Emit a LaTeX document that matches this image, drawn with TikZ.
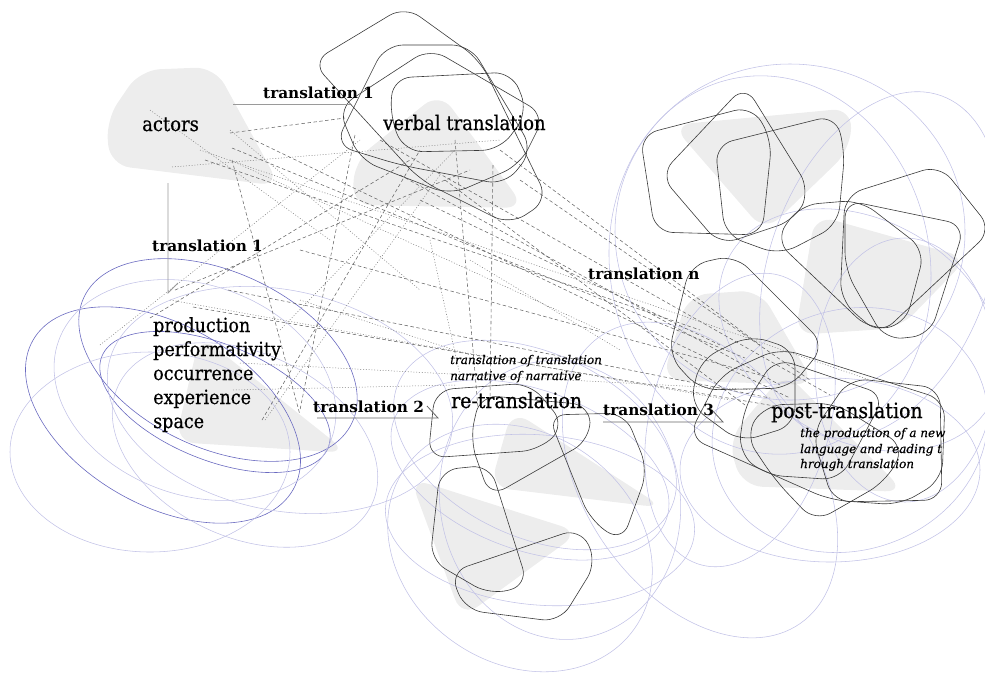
\documentclass[tikz,border=0pt]{standalone}
\usepackage{fontspec}
\setmainfont{DejaVu Serif}
\newfontfamily\narrowserif{DejaVu Serif}[FakeStretch=0.9, FakeBold=0.6]
\newfontfamily\itserif{DejaVu Serif}[FakeBold=0.4]
\definecolor{loopc}{HTML}{3A3A3A}
\definecolor{bluedk}{HTML}{6A6AC0}
\definecolor{bluelt}{HTML}{C2C2E6}
\definecolor{dashc}{HTML}{666666}
\definecolor{connc}{HTML}{9A9A9A}
\tikzset{
 blobfill/.style={fill=black, fill opacity=0.07, draw=none, rounded corners=20pt},
 blk/.style={draw=loopc, line width=0.6pt, rounded corners=18pt},
 bdk/.style={draw=bluedk, line width=0.6pt},
 blt/.style={draw=bluelt, line width=0.55pt},
 dsh/.style={draw=dashc, line width=0.55pt, dash pattern=on 3.5pt off 2.5pt},
 dtt/.style={draw=dashc!85, line width=0.5pt, dash pattern=on 1pt off 1.8pt},
 connline/.style={draw=connc, line width=0.8pt},
 bigl/.style={font=\narrowserif\fontsize{20}{22}\selectfont, inner sep=0, anchor=base west},
 listl/.style={font=\narrowserif\fontsize{19.5}{22}\selectfont, inner sep=0, anchor=base west},
 retl/.style={font=\narrowserif\fontsize{21}{23}\selectfont, inner sep=0, anchor=base west},
 boldl/.style={font=\bfseries\fontsize{15.3}{17}\selectfont, inner sep=0, anchor=base west},
 itl/.style={font=\itserif\itshape\fontsize{12}{14}\selectfont, inner sep=0, anchor=base west},
}
\begin{document}
\begin{tikzpicture}[x=1pt,y=-1pt]
\useasboundingbox (0,0) rectangle (985,673);

% ---------- grey blobs ----------
\fill[blobfill] (247.5,126.5) -- (280,186) -- (110,165) -- (106,120) -- (140,70) -- (215,67) -- cycle;
\fill[blobfill] (482.5,150) -- (525,208) -- (352,205) -- (355,160) -- (440,92) -- cycle;
\fill[blobfill] (274,394) -- (348,453) -- (175,442) -- (200,335) -- cycle;
\fill[blobfill] (588,459) -- (664,508) -- (490,487) -- (512,410) -- cycle;
\fill[blobfill] (495,505) -- (580,532) -- (462,618) -- (410,478) -- cycle;
\fill[blobfill] (762,116.5) -- (852,108) -- (850,150) -- (765,232) -- (672,125) -- cycle;
\fill[blobfill] (891.5,236.5) -- (968,258) -- (900,328) -- (795,335) -- (815,215) -- cycle;
\fill[blobfill] (787.5,337.5) -- (815,385) -- (662,380) -- (688,295) -- (760,290) -- cycle;
\fill[blobfill] (845,432) -- (905,492) -- (742,486) -- (728,440) -- (785,372) -- cycle;

% ---------- blue loops, left ----------
\draw[bdk, rotate around={-25:(218,360)}] (218,360) ellipse [x radius=148, y radius=88];
\draw[bdk, rotate around={-30:(163,415)}] (163,415) ellipse [x radius=150, y radius=90];
\draw[bdk, rotate around={-22:(215,402)}] (215,402) ellipse [x radius=122, y radius=58];
\draw[blt] (150,452) ellipse [x radius=140, y radius=100];
\draw[blt, rotate around={-20:(195,390)}] (195,390) ellipse [x radius=145, y radius=105];
\draw[blt, rotate around={-25:(245,445)}] (245,445) ellipse [x radius=140, y radius=92];
\draw[blt, rotate around={-12:(280,400)}] (280,400) ellipse [x radius=175, y radius=110];

% ---------- blue loops, middle ----------
\draw[blt, rotate around={-20:(530,470)}] (530,470) ellipse [x radius=145, y radius=80];
\draw[blt, rotate around={-5:(540,520)}] (540,520) ellipse [x radius=155, y radius=85];
\draw[blt, rotate around={-35:(520,548)}] (520,548) ellipse [x radius=140, y radius=115];
\draw[blt, rotate around={-25:(535,445)}] (535,445) ellipse [x radius=150, y radius=92];
\draw[blt, rotate around={10:(560,500)}] (560,500) ellipse [x radius=120, y radius=140];

% ---------- blue loops, right ----------
\draw[blt] (790,232) ellipse [x radius=175, y radius=168];
\draw[blt, rotate around={10:(770,265)}] (770,265) ellipse [x radius=160, y radius=190];
\draw[blt, rotate around={-20:(880,265)}] (880,265) ellipse [x radius=110, y radius=180];
\draw[blt] (830,470) ellipse [x radius=150, y radius=92];
\draw[blt, rotate around={20:(850,430)}] (850,430) ellipse [x radius=140, y radius=120];
\draw[blt, rotate around={-15:(740,420)}] (740,420) ellipse [x radius=90, y radius=150];
\draw[blt] (905,370) ellipse [x radius=90, y radius=132];
\draw[blt, rotate around={35:(700,480)}] (700,480) ellipse [x radius=115, y radius=175];
\draw[blt, rotate around={-30:(860,330)}] (860,330) ellipse [x radius=150, y radius=110];

% ---------- dashed lines ----------
\foreach \a/\b in {
 {(230,133)}/{(345,118)}, {(232,148)}/{(745,358)}, {(250,138)}/{(790,398)},
 {(205,160)}/{(700,330)}, {(228,290)}/{(770,398)}, {(193,307)}/{(810,412)},
 {(232,160)}/{(300,415)}, {(355,135)}/{(300,410)}, {(150,318)}/{(410,160)},
 {(455,140)}/{(478,408)}, {(493,165)}/{(490,400)}, {(380,140)}/{(830,395)},
 {(400,175)}/{(780,385)}, {(445,180)}/{(745,405)}, {(500,150)}/{(760,345)},
 {(520,180)}/{(810,380)}, {(175,290)}/{(470,170)}, {(262,420)}/{(420,150)},
 {(420,200)}/{(720,345)}, {(300,250)}/{(760,375)}}
 \draw[dsh] \a -- \b;
\foreach \a/\b in {
 {(172,167)}/{(500,140)}, {(230,130)}/{(420,290)}, {(100,345)}/{(360,140)},
 {(265,420)}/{(440,175)}, {(230,160)}/{(600,330)}, {(200,150)}/{(870,380)},
 {(240,363)}/{(760,390)}, {(233,390)}/{(455,385)}, {(170,300)}/{(730,400)},
 {(280,330)}/{(455,150)}, {(300,300)}/{(470,355)}, {(150,110)}/{(330,240)},
 {(430,240)}/{(460,375)}, {(470,260)}/{(620,350)}}
 \draw[dtt] \a -- \b;

% ---------- black loops, verbal translation ----------
\draw[blk] (366,121) -- (312,62) -- (405,6) -- (480,60) -- (548,200) -- (510,225) -- (420,180) -- cycle;
\draw[blk] (427.5,45) -- (470,45) -- (533,150) -- (505,185) -- (400,165) -- (335,145) -- (385,45) -- cycle;
\draw[blk] (452.5,75) -- (512,72) -- (528,112) -- (500,150) -- (405,152) -- (390,118) -- (393,78) -- cycle;
\draw[blk] (487.5,81.5) -- (545,115) -- (520,165) -- (450,195) -- (360,160) -- (338,108) -- (430,48) -- cycle;

% ---------- black loops, re-translation ----------
\draw[blk] (484,454) -- (428,458) -- (435,390) -- (530,383) -- (565,425) -- (540,450) -- cycle;
\draw[blk] (535,400) -- (590,405) -- (590,440) -- (490,497) -- (470,440) -- (480,395) -- cycle;
\draw[blk] (569,467.5) -- (548,415) -- (625,413) -- (648,470) -- (622,542) -- (590,520) -- cycle;
\draw[blk] (509,525) -- (528,585) -- (490,595) -- (430,560) -- (440,470) -- (490,465) -- cycle;
\draw[blk] (515,550) -- (580,528) -- (597,562) -- (560,622) -- (465,610) -- (450,572) -- cycle;

% ---------- black loops, right cluster ----------
\draw[blk] (647.5,183.5) -- (640,135) -- (752,106) -- (772,140) -- (762,235) -- (655,232) -- cycle;
\draw[blk] (690,210) -- (660,175) -- (745,85) -- (810,190) -- (795,220) -- (720,245) -- cycle;
\draw[blk] (720,190) -- (715,145) -- (835,115) -- (845,150) -- (838,225) -- (780,255) -- (725,235) -- cycle;
\draw[blk] (822.5,285) -- (775,240) -- (800,205) -- (860,200) -- (925,250) -- (905,325) -- (870,330) -- cycle;
\draw[blk] (842.5,247.5) -- (845,195) -- (940,165) -- (992,230) -- (880,335) -- (840,300) -- cycle;
\draw[blk] (905,212.5) -- (965,225) -- (930,335) -- (885,340) -- (845,270) -- (845,200) -- cycle;
\draw[blk] (679,310) -- (690,265) -- (735,255) -- (825,345) -- (790,388) -- (700,390) -- (668,355) -- cycle;
\draw[blk] (759,468.5) -- (688,437) -- (720,375) -- (780,348) -- (945,400) -- (942,480) -- (900,505) -- (830,500) -- cycle;
\draw[blk] (802.5,477.5) -- (765,475) -- (738,452) -- (745,405) -- (775,358) -- (885,395) -- (840,480) -- cycle;
\draw[blk] (800,404) -- (835,403) -- (905,447) -- (885,482) -- (815,522) -- (775,480) -- (745,435) -- (765,405) -- cycle;
\draw[blk] (822.5,467.5) -- (812,433) -- (850,378) -- (940,388) -- (942,500) -- (833,502) -- cycle;
\draw[blk] (795,387.5) -- (795,425) -- (740,442) -- (690,405) -- (700,360) -- (750,335) -- (795,350) -- cycle;

% ---------- connectors ----------
\coordinate (c1a) at (233,104); \coordinate (c1b) at (350,104);
\draw[connline] (c1a) -- (c1b);
\coordinate (c2a) at (168,183); \coordinate (c2b) at (168,293); \coordinate (c2c) at (178,283);
\draw[connline] (c2a) -- (c2b) -- (c2c);
\coordinate (c3a) at (317,418); \coordinate (c3b) at (438,418); \coordinate (c3c) at (427,406);
\draw[connline, draw=dashc] (c3a) -- (c3b) -- (c3c);
\coordinate (c4a) at (603,422); \coordinate (c4b) at (723,422); \coordinate (c4c) at (712,410);
\draw[connline, draw=dashc] (c4a) -- (c4b) -- (c4c);

% ---------- texts ----------
\node[bigl] (actors) at (142,131) {actors};
\node[bigl] (verbal) at (383,130) {verbal translation};
\node[boldl] (t1a) at (263,98) {translation 1};
\node[boldl] (t1b) at (152,251) {translation 1};
\node[boldl] (tn) at (588,279) {translation n};
\node[boldl] (t2) at (313,412) {translation 2};
\node[boldl] (t3) at (603,415) {translation 3};
\node[listl] (p1) at (153,332) {production};
\node[listl] (p2) at (153,356) {performativity};
\node[listl] (p3) at (153,380) {occurrence};
\node[listl] (p4) at (153,404) {experience};
\node[listl] (p5) at (153,428) {space};
\node[itl] (i1) at (450,364) {translation of translation};
\node[itl] (i2) at (450,380) {narrative of narrative};
\node[retl] (retr) at (451,408) {re-translation};
\node[retl] (post) at (771,418) {post-translation};
\node[itl] (j1) at (800,437) {the production of a new};
\node[itl] (j2) at (800,453) {language and reading t};
\node[itl] (j3) at (800,468) {hrough translation};
\end{tikzpicture}
\end{document}
